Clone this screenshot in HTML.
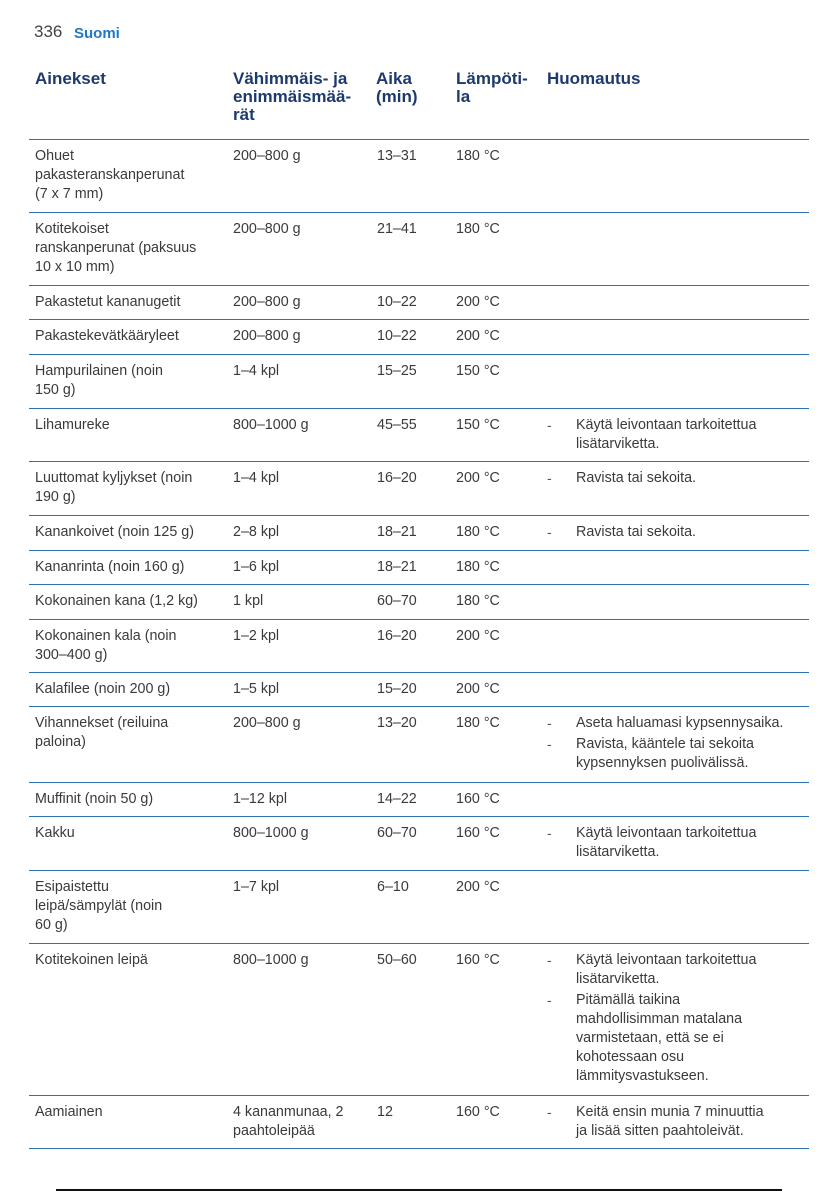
<!DOCTYPE html>
<html><head><meta charset="utf-8"><style>
body{margin:0;width:839px;height:1191px;background:#fff;position:relative;overflow:hidden;font-family:"Liberation Sans",sans-serif;}
.t{position:absolute;font-size:14.3px;line-height:19px;color:#3a3a3a;transform:translateY(2px);}
.h{position:absolute;font-size:17px;line-height:18px;color:#1d3a6e;font-weight:bold;}
.l{position:absolute;left:29px;width:780px;height:1.3px;background:#2f6fae;}
.d{position:absolute;font-size:14px;line-height:19px;color:#555;transform:translateY(2px);}
</style></head><body>
<div class="t" style="left:34px;top:20px;font-size:17px;color:#444">336</div>
<div class="t" style="left:74px;top:22px;font-size:15px;font-weight:bold;color:#1f78c8">Suomi</div>
<div class="h" style="left:35px;top:70px">Ainekset</div>
<div class="h" style="left:233px;top:70px">Vähimmäis- ja<br>enimmäismää-<br>rät</div>
<div class="h" style="left:376px;top:70px">Aika<br>(min)</div>
<div class="h" style="left:456px;top:70px">Lämpöti-<br>la</div>
<div class="h" style="left:547px;top:70px">Huomautus</div>

<div class="l" style="top:139px"></div>
<div class="t" style="left:35px;top:145px">Ohuet<br>pakasteranskanperunat<br>(7 x 7 mm)</div>
<div class="t" style="left:233px;top:145px">200–800 g</div><div class="t" style="left:377px;top:145px">13–31</div><div class="t" style="left:456px;top:145px">180 °C</div>

<div class="l" style="top:212px"></div>
<div class="t" style="left:35px;top:218px">Kotitekoiset<br>ranskanperunat (paksuus<br>10 x 10 mm)</div>
<div class="t" style="left:233px;top:218px">200–800 g</div><div class="t" style="left:377px;top:218px">21–41</div><div class="t" style="left:456px;top:218px">180 °C</div>

<div class="l" style="top:285px"></div>
<div class="t" style="left:35px;top:291px">Pakastetut kananugetit</div>
<div class="t" style="left:233px;top:291px">200–800 g</div><div class="t" style="left:377px;top:291px">10–22</div><div class="t" style="left:456px;top:291px">200 °C</div>

<div class="l" style="top:319px"></div>
<div class="t" style="left:35px;top:325px">Pakastekevätkääryleet</div>
<div class="t" style="left:233px;top:325px">200–800 g</div><div class="t" style="left:377px;top:325px">10–22</div><div class="t" style="left:456px;top:325px">200 °C</div>

<div class="l" style="top:354px"></div>
<div class="t" style="left:35px;top:360px">Hampurilainen (noin<br>150 g)</div>
<div class="t" style="left:233px;top:360px">1–4 kpl</div><div class="t" style="left:377px;top:360px">15–25</div><div class="t" style="left:456px;top:360px">150 °C</div>

<div class="l" style="top:408px"></div>
<div class="t" style="left:35px;top:414px">Lihamureke</div>
<div class="t" style="left:233px;top:414px">800–1000 g</div><div class="t" style="left:377px;top:414px">45–55</div><div class="t" style="left:456px;top:414px">150 °C</div>
<div class="d" style="left:547px;top:414px">-</div><div class="t" style="left:576px;top:414px">Käytä leivontaan tarkoitettua<br>lisätarviketta.</div>

<div class="l" style="top:461px"></div>
<div class="t" style="left:35px;top:467px">Luuttomat kyljykset (noin<br>190 g)</div>
<div class="t" style="left:233px;top:467px">1–4 kpl</div><div class="t" style="left:377px;top:467px">16–20</div><div class="t" style="left:456px;top:467px">200 °C</div>
<div class="d" style="left:547px;top:467px">-</div><div class="t" style="left:576px;top:467px">Ravista tai sekoita.</div>

<div class="l" style="top:515px"></div>
<div class="t" style="left:35px;top:521px">Kanankoivet (noin 125 g)</div>
<div class="t" style="left:233px;top:521px">2–8 kpl</div><div class="t" style="left:377px;top:521px">18–21</div><div class="t" style="left:456px;top:521px">180 °C</div>
<div class="d" style="left:547px;top:521px">-</div><div class="t" style="left:576px;top:521px">Ravista tai sekoita.</div>

<div class="l" style="top:550px"></div>
<div class="t" style="left:35px;top:556px">Kananrinta (noin 160 g)</div>
<div class="t" style="left:233px;top:556px">1–6 kpl</div><div class="t" style="left:377px;top:556px">18–21</div><div class="t" style="left:456px;top:556px">180 °C</div>

<div class="l" style="top:584px"></div>
<div class="t" style="left:35px;top:590px">Kokonainen kana (1,2 kg)</div>
<div class="t" style="left:233px;top:590px">1 kpl</div><div class="t" style="left:377px;top:590px">60–70</div><div class="t" style="left:456px;top:590px">180 °C</div>

<div class="l" style="top:619px"></div>
<div class="t" style="left:35px;top:625px">Kokonainen kala (noin<br>300–400 g)</div>
<div class="t" style="left:233px;top:625px">1–2 kpl</div><div class="t" style="left:377px;top:625px">16–20</div><div class="t" style="left:456px;top:625px">200 °C</div>

<div class="l" style="top:672px"></div>
<div class="t" style="left:35px;top:678px">Kalafilee (noin 200 g)</div>
<div class="t" style="left:233px;top:678px">1–5 kpl</div><div class="t" style="left:377px;top:678px">15–20</div><div class="t" style="left:456px;top:678px">200 °C</div>

<div class="l" style="top:706px"></div>
<div class="t" style="left:35px;top:712px">Vihannekset (reiluina<br>paloina)</div>
<div class="t" style="left:233px;top:712px">200–800 g</div><div class="t" style="left:377px;top:712px">13–20</div><div class="t" style="left:456px;top:712px">180 °C</div>
<div class="d" style="left:547px;top:712px">-</div><div class="t" style="left:576px;top:712px">Aseta haluamasi kypsennysaika.</div>
<div class="d" style="left:547px;top:733px">-</div><div class="t" style="left:576px;top:733px">Ravista, kääntele tai sekoita<br>kypsennyksen puolivälissä.</div>

<div class="l" style="top:782px"></div>
<div class="t" style="left:35px;top:788px">Muffinit (noin 50 g)</div>
<div class="t" style="left:233px;top:788px">1–12 kpl</div><div class="t" style="left:377px;top:788px">14–22</div><div class="t" style="left:456px;top:788px">160 °C</div>

<div class="l" style="top:816px"></div>
<div class="t" style="left:35px;top:822px">Kakku</div>
<div class="t" style="left:233px;top:822px">800–1000 g</div><div class="t" style="left:377px;top:822px">60–70</div><div class="t" style="left:456px;top:822px">160 °C</div>
<div class="d" style="left:547px;top:822px">-</div><div class="t" style="left:576px;top:822px">Käytä leivontaan tarkoitettua<br>lisätarviketta.</div>

<div class="l" style="top:870px"></div>
<div class="t" style="left:35px;top:876px">Esipaistettu<br>leipä/sämpylät (noin<br>60 g)</div>
<div class="t" style="left:233px;top:876px">1–7 kpl</div><div class="t" style="left:377px;top:876px">6–10</div><div class="t" style="left:456px;top:876px">200 °C</div>

<div class="l" style="top:943px"></div>
<div class="t" style="left:35px;top:949px">Kotitekoinen leipä</div>
<div class="t" style="left:233px;top:949px">800–1000 g</div><div class="t" style="left:377px;top:949px">50–60</div><div class="t" style="left:456px;top:949px">160 °C</div>
<div class="d" style="left:547px;top:949px">-</div><div class="t" style="left:576px;top:949px">Käytä leivontaan tarkoitettua<br>lisätarviketta.</div>
<div class="d" style="left:547px;top:989px">-</div><div class="t" style="left:576px;top:989px">Pitämällä taikina<br>mahdollisimman matalana<br>varmistetaan, että se ei<br>kohotessaan osu<br>lämmitysvastukseen.</div>

<div class="l" style="top:1095px"></div>
<div class="t" style="left:35px;top:1101px">Aamiainen</div>
<div class="t" style="left:233px;top:1101px">4 kananmunaa, 2<br>paahtoleipää</div><div class="t" style="left:377px;top:1101px">12</div><div class="t" style="left:456px;top:1101px">160 °C</div>
<div class="d" style="left:547px;top:1101px">-</div><div class="t" style="left:576px;top:1101px">Keitä ensin munia 7 minuuttia<br>ja lisää sitten paahtoleivät.</div>

<div class="l" style="top:1148px"></div>
<div style="position:absolute;left:56px;top:1189px;width:726px;height:1.5px;background:#111"></div>
</body></html>
